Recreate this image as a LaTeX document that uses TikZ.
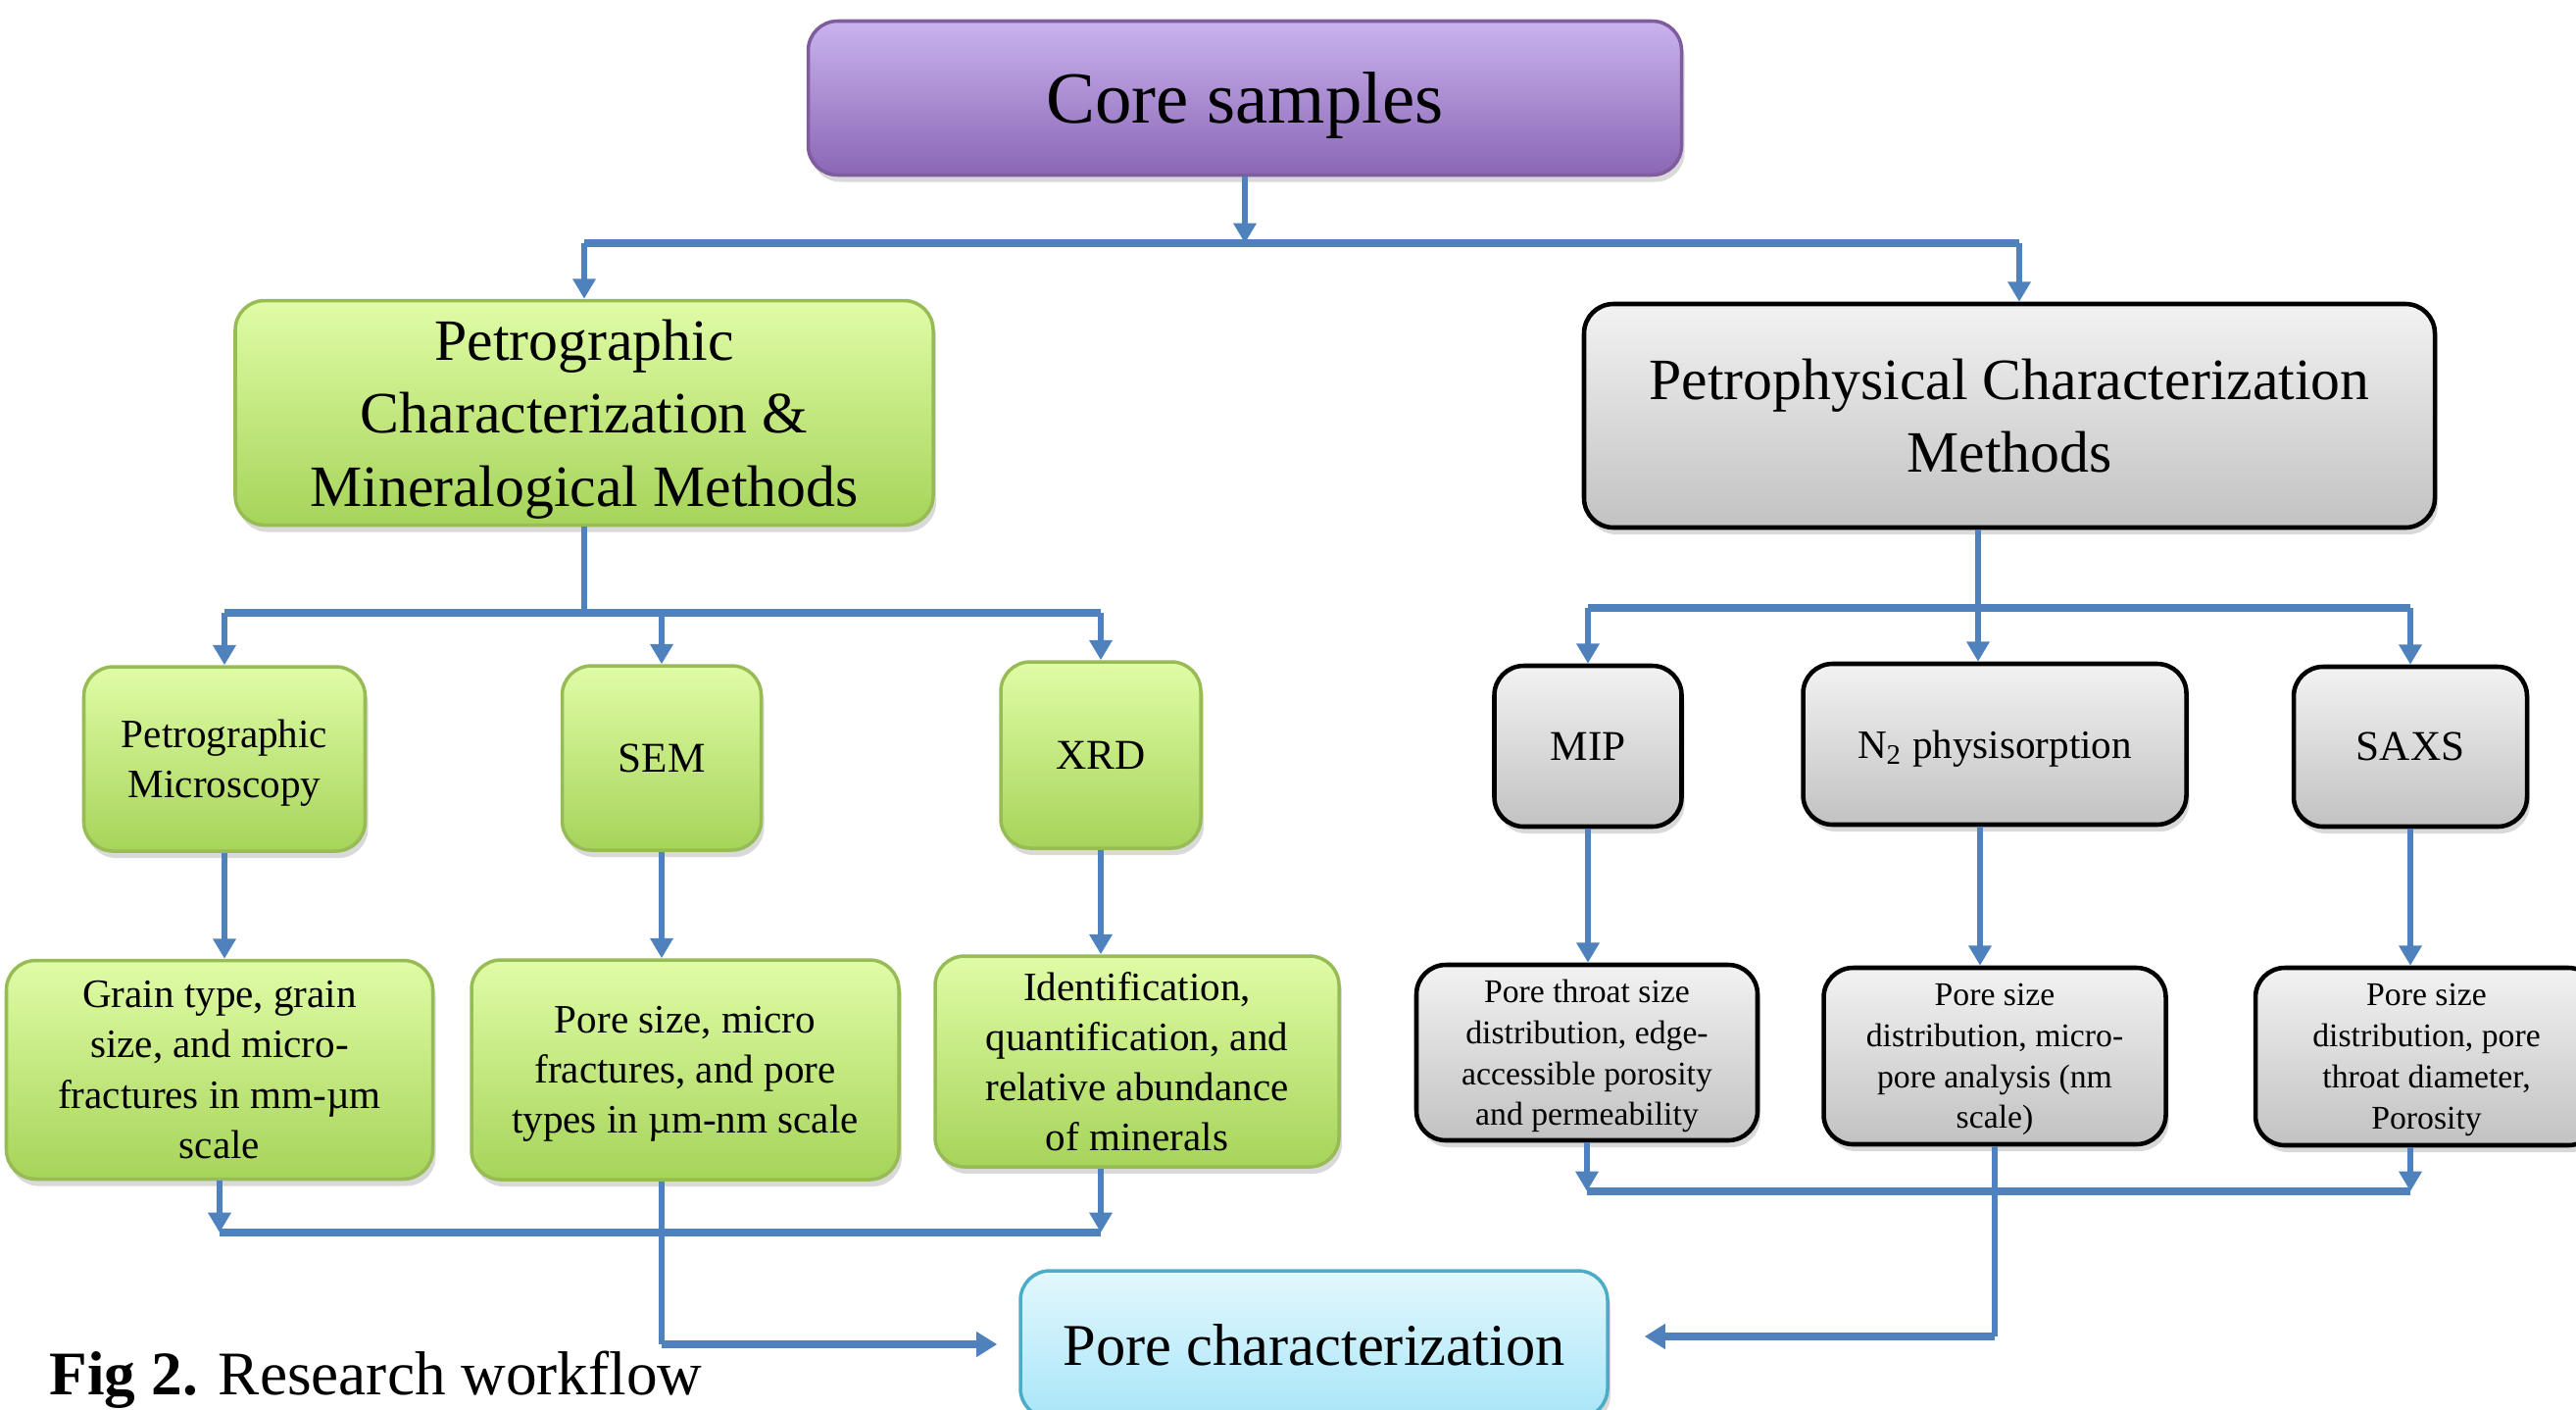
\documentclass[tikz,border=0pt]{standalone}
\usepackage{fontspec}
\setmainfont{Liberation Serif}
\usetikzlibrary{arrows.meta,shadows,positioning}
\definecolor{linkblue}{HTML}{4F81BD}
\definecolor{coretop}{HTML}{C9B3EE}
\definecolor{corebot}{HTML}{8B66B5}
\definecolor{coreline}{HTML}{7E5C9E}
\definecolor{greentop}{HTML}{E0FCA6}
\definecolor{greenbot}{HTML}{A6D45A}
\definecolor{greenline}{HTML}{98BC55}
\definecolor{graytop}{HTML}{F2F2F2}
\definecolor{graybot}{HTML}{C2C2C2}
\definecolor{cyantop}{HTML}{E4F7FD}
\definecolor{cyanbot}{HTML}{A8E6F8}
\definecolor{cyanline}{HTML}{4BACC6}
\tikzset{
  box/.style={rounded corners=0.3cm,align=center,inner sep=0pt,text depth=0pt,
    drop shadow={opacity=0.3,shadow xshift=0.03cm,shadow yshift=-0.07cm}},
  corebox/.style={box,draw=coreline,line width=1pt,top color=coretop,bottom color=corebot},
  greenbox/.style={box,draw=greenline,line width=1pt,top color=greentop,bottom color=greenbot},
  graybox/.style={box,draw=black,line width=1.3pt,top color=graytop,bottom color=graybot},
  cyanbox/.style={box,draw=cyanline,line width=1pt,top color=cyantop,bottom color=cyanbot},
  big/.style={font=\fontsize{17}{21.2}\selectfont},
  mid/.style={font=\fontsize{11.7}{14.6}\selectfont},
  small/.style={font=\fontsize{9.6}{11.9}\selectfont},
  link/.style={draw=linkblue,line width=1.8pt},
  bar/.style={draw=linkblue,line width=2.3pt},
  arr/.style={link,-{Triangle[length=5.8pt,width=6.4pt]}},
  bararr/.style={bar,-{Triangle[length=6pt,width=7pt]}}
}
\begin{document}
\begin{tikzpicture}[line join=round]
\useasboundingbox (0,0) rectangle (26.28,-14.37);
\node[corebox,minimum width=8.91cm,minimum height=1.57cm,font=\fontsize{21.3}{25}\selectfont] (core) at (12.70,-1.00) {Core samples};
\node[greenbox,big,minimum width=7.12cm,minimum height=2.29cm] (petro) at (5.96,-4.21) {Petrographic\\Characterization \&\\Mineralogical Methods};
\node[graybox,big,minimum width=8.68cm,minimum height=2.28cm] (phys) at (20.50,-4.24) {Petrophysical Characterization\\Methods};

\node[greenbox,mid,minimum width=2.87cm,minimum height=1.88cm] (pm) at (2.29,-7.74) {Petrographic\\Microscopy};
\node[greenbox,font=\fontsize{12.3}{14.6}\selectfont,minimum width=2.03cm,minimum height=1.88cm] (sem) at (6.75,-7.73) {SEM};
\node[greenbox,font=\fontsize{12.3}{14.6}\selectfont,minimum width=2.04cm,minimum height=1.90cm] (xrd) at (11.23,-7.70) {XRD};
\node[graybox,font=\fontsize{12.3}{14.6}\selectfont,minimum width=1.91cm,minimum height=1.64cm] (mip) at (16.20,-7.61) {MIP};
\node[graybox,mid,minimum width=3.91cm,minimum height=1.64cm] (n2) at (20.35,-7.59) {N\textsubscript{2} physisorption};
\node[graybox,font=\fontsize{12.3}{14.6}\selectfont,minimum width=2.38cm,minimum height=1.63cm] (saxs) at (24.59,-7.615) {SAXS};

\node[greenbox,mid,minimum width=4.35cm,minimum height=2.23cm] (grain) at (2.24,-10.91) {Grain type, grain\\size, and micro-\\fractures in mm-µm\\scale};
\node[greenbox,mid,minimum width=4.36cm,minimum height=2.24cm] (poresem) at (6.99,-10.91) {Pore size, micro\\fractures, and pore\\types in µm-nm scale};
\node[greenbox,mid,minimum width=4.12cm,minimum height=2.15cm] (ident) at (11.60,-10.825) {Identification,\\quantification, and\\relative abundance\\of minerals};
\node[graybox,small,minimum width=3.48cm,minimum height=1.79cm] (throat) at (16.19,-10.735) {Pore throat size\\distribution, edge-\\accessible porosity\\and permeability};
\node[graybox,small,minimum width=3.49cm,minimum height=1.80cm] (poren2) at (20.35,-10.77) {Pore size\\distribution, micro-\\pore analysis (nm\\scale)};
\node[graybox,small,minimum width=3.49cm,minimum height=1.81cm] (poresaxs) at (24.755,-10.775) {Pore size\\distribution, pore\\throat diameter,\\Porosity};

\node[cyanbox,font=\fontsize{17.2}{21}\selectfont,minimum width=5.99cm,minimum height=1.50cm] (pc) at (13.405,-13.71) {Pore characterization};
\node[anchor=base west,inner sep=0pt,font=\fontsize{18}{21}\selectfont] (cap) at (0.50,-14.22) {\textbf{Fig 2.} Research workflow};

\coordinate (b1) at (12.70,-2.48);
\coordinate (b2) at (5.96,-6.25);
\coordinate (b3) at (6.75,-6.20);
\coordinate (b4) at (6.75,-12.57);
\coordinate (b5) at (20.35,-12.15);

\draw[arr] (core.south) -- (b1);
\draw[bar] (petro.north |- b1) -- ([xshift=0.1cm]phys.north |- b1);
\draw[arr] (petro.north |- b1) -- (petro.north);
\draw[arr] ([xshift=0.1cm]phys.north |- b1) -- ([xshift=0.1cm]phys.north);

\draw[link] (petro.south) -- (b2);
\draw[bar] (pm.north |- b2) -- (xrd.north |- b2);
\foreach \n in {pm,sem,xrd}
  \draw[arr] (\n.north |- b2) -- (\n.north);

\draw[link] ([xshift=-0.17cm]phys.south -| n2.north) -- ([xshift=-0.17cm]n2.north |- b3);
\draw[bar] (mip.north |- b3) -- (saxs.north |- b3);
\draw[arr] (mip.north |- b3) -- (mip.north);
\draw[arr] ([xshift=-0.17cm]n2.north |- b3) -- ([xshift=-0.17cm]n2.north);
\draw[arr] (saxs.north |- b3) -- (saxs.north);

\draw[arr] (pm.south) -- (pm.south |- grain.north);
\draw[arr] (sem.south) -- (sem.south |- poresem.north);
\draw[arr] (xrd.south) -- (xrd.south |- ident.north);
\draw[arr] (mip.south) -- (mip.south |- throat.north);
\draw[arr] ([xshift=-0.15cm]n2.south) -- ([xshift=-0.15cm]n2.south |- poren2.north);
\draw[arr] (saxs.south) -- (saxs.south |- poresaxs.north);

\draw[arr] (grain.south) -- (grain.south |- b4);
\draw[arr] (xrd.south |- ident.south) -- (xrd.south |- b4);
\draw[bar] (grain.south |- b4) -- (xrd.south |- b4);
\draw[link] (sem.south |- poresem.south) -- (sem.south |- pc.west);
\draw[bararr] (sem.south |- pc.west) -- ([xshift=-0.22cm]pc.west);

\draw[arr] (throat.south) -- (throat.south |- b5);
\draw[arr] (saxs.south |- poresaxs.south) -- (saxs.south |- b5);
\draw[bar] (throat.south |- b5) -- (saxs.south |- b5);
\draw[link] (poren2.south) -- ([yshift=0.08cm]poren2.south |- pc.east);
\draw[bararr] ([yshift=0.08cm]poren2.south |- pc.east) -- ([xshift=0.36cm,yshift=0.08cm]pc.east);
\end{tikzpicture}
\end{document}
